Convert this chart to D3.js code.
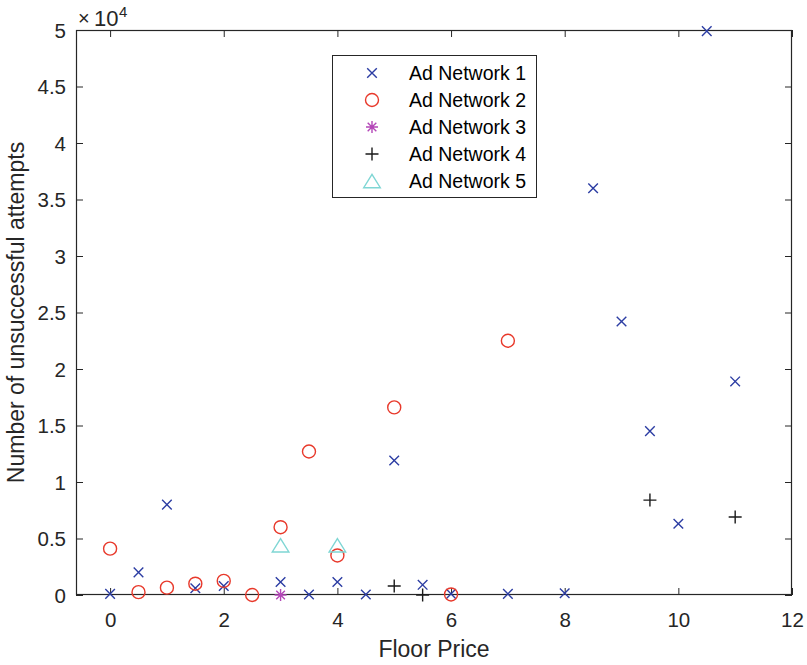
<!DOCTYPE html>
<html>
<head>
<meta charset="utf-8">
<script src="https://cdn.jsdelivr.net/npm/d3@7"></script>
<style>
  body { margin: 0; background: #fff; }
  svg { display: block; font-family: "Liberation Sans", Arial, Helvetica, sans-serif; }
</style>
</head>
<body>
<div id="chart"></div>
<script>
// Floor price (x) for each ad network, and unsuccessful attempts (y)
const net1X = [0, 0.5, 1, 1.5, 2, 3, 3.5, 4, 4.5, 5, 5.5, 6, 7, 8, 8.5, 9, 9.5, 10, 10.5, 11];
const net1Y = [100, 2000, 8000, 600, 800, 1150, 50, 1150, 50, 11900, 900, 100, 100, 150, 36000, 24200, 14500, 6300, 49900, 18900];

const net2X = [0, 0.5, 1, 1.5, 2, 2.5, 3, 3.5, 4, 5, 6, 7];
const net2Y = [4100, 250, 650, 1000, 1250, 0, 6000, 12700, 3500, 16600, 50, 22500];

const net3X = [3];
const net3Y = [0];

const net4X = [5, 5.5, 9.5, 11];
const net4Y = [800, 0, 8400, 6900];

const net5X = [3, 4];
const net5Y = [4400, 4400];

const seriesNames = ["Ad Network 1", "Ad Network 2", "Ad Network 3", "Ad Network 4", "Ad Network 5"];
const seriesColors = ["#2c3da3", "#e8392b", "#b447b8", "#1a1a1a", "#7fd6d4"];
const seriesMarkers = ["x", "o", "*", "+", "^"];

const xTicks = [0, 2, 4, 6, 8, 10, 12];
const yTicks = [0, 0.5, 1, 1.5, 2, 2.5, 3, 3.5, 4, 4.5, 5];   // in units of 10^4

const series = [
  { x: net1X, y: net1Y }, { x: net2X, y: net2Y }, { x: net3X, y: net3Y },
  { x: net4X, y: net4Y }, { x: net5X, y: net5Y }
].map((s, i) => ({
  name: seriesNames[i], color: seriesColors[i], marker: seriesMarkers[i],
  points: s.x.map((v, j) => ({ x: v, y: s.y[j] }))
}));

const W = 807, H = 665;
const plot = { left: 76, right: 792, top: 30, bottom: 595 };
const axisColor = "#262626";

const svg = d3.select("#chart").append("svg").attr("width", W).attr("height", H);

const x = d3.scaleLinear().domain([-0.6, 12]).range([plot.left, plot.right]);
const y = d3.scaleLinear().domain([0, 50000]).range([plot.bottom, plot.top]);

// marker path builders (size in px)
function markerPath(type) {
  const p = d3.path();
  if (type === "x") {
    const r = 4.8;
    p.moveTo(-r, -r); p.lineTo(r, r); p.moveTo(-r, r); p.lineTo(r, -r);
  } else if (type === "o") {
    const r = 6.5;
    p.moveTo(r, 0); p.arc(0, 0, r, 0, Math.PI * 2);
  } else if (type === "+") {
    const r = 6.5;
    p.moveTo(-r, 0); p.lineTo(r, 0); p.moveTo(0, -r); p.lineTo(0, r);
  } else if (type === "*") {
    const r = 6, d = r * 0.72;
    p.moveTo(-r, 0); p.lineTo(r, 0); p.moveTo(0, -r); p.lineTo(0, r);
    p.moveTo(-d, -d); p.lineTo(d, d); p.moveTo(-d, d); p.lineTo(d, -d);
  } else if (type === "^") {
    const w = 8.3, h = 6.7;
    p.moveTo(0, -h); p.lineTo(w, h); p.lineTo(-w, h); p.closePath();
  }
  return p.toString();
}

// plot frame
svg.append("rect")
  .attr("x", plot.left).attr("y", plot.top)
  .attr("width", plot.right - plot.left).attr("height", plot.bottom - plot.top)
  .attr("fill", "#fff");

// axes with inward ticks on all four sides
const tickLen = 7;
const xAxisB = d3.axisBottom(x).tickValues(xTicks).tickSizeInner(-tickLen).tickSizeOuter(0).tickPadding(17).tickFormat(d3.format("d"));
const xAxisT = d3.axisTop(x).tickValues(xTicks).tickSizeInner(-tickLen).tickSizeOuter(0).tickFormat("");
const yAxisL = d3.axisLeft(y).tickValues(yTicks.map(v => v * 1e4)).tickSizeInner(-tickLen).tickSizeOuter(0).tickPadding(10)
  .tickFormat(v => d3.format("~g")(v / 1e4));
const yAxisR = d3.axisRight(y).tickValues(yTicks.map(v => v * 1e4)).tickSizeInner(-tickLen).tickSizeOuter(0).tickFormat("");

function styleAxis(g) {
  g.select(".domain").remove();
  g.selectAll(".tick line").attr("stroke", axisColor).attr("stroke-width", 1);
  g.selectAll(".tick text").attr("fill", axisColor).attr("font-size", 20.5)
    .attr("font-family", "'Liberation Sans', Arial, sans-serif");
}

svg.append("g").attr("transform", `translate(0,${plot.bottom})`).call(xAxisB).call(styleAxis);
svg.append("g").attr("transform", `translate(0,${plot.top})`).call(xAxisT).call(styleAxis);
svg.append("g").attr("transform", `translate(${plot.left},0)`).call(yAxisL).call(styleAxis)
  .selectAll(".tick text").attr("dy", "0.36em");
svg.append("g").attr("transform", `translate(${plot.right},0)`).call(yAxisR).call(styleAxis);

// box outline
svg.append("rect")
  .attr("x", plot.left + 0.5).attr("y", plot.top + 0.5)
  .attr("width", plot.right - plot.left - 1).attr("height", plot.bottom - plot.top - 1)
  .attr("fill", "none").attr("stroke", axisColor).attr("stroke-width", 1.2);

// data markers
const clipId = "plot-clip";
svg.append("clipPath").attr("id", clipId).append("rect")
  .attr("x", plot.left - 10).attr("y", plot.top - 10)
  .attr("width", plot.right - plot.left + 20).attr("height", plot.bottom - plot.top + 20);

const marks = svg.append("g").attr("clip-path", `url(#${clipId})`);
series.forEach(s => {
  marks.append("g").selectAll("path").data(s.points).join("path")
    .attr("transform", d => `translate(${x(d.x)},${y(d.y)})`)
    .attr("d", markerPath(s.marker))
    .attr("fill", "none")
    .attr("stroke", s.color)
    .attr("stroke-width", 1.4);
});

// exponent label: ×10^4 above the y axis
const expo = svg.append("g").attr("fill", axisColor);
expo.append("text").attr("x", 78).attr("y", 25).attr("font-size", 20).text("\u00d7");
expo.append("text").attr("x", 94).attr("y", 26).attr("font-size", 22).text("10");
expo.append("text").attr("x", 119).attr("y", 17).attr("font-size", 15).text("4");

// axis titles
svg.append("text")
  .attr("x", (plot.left + plot.right) / 2).attr("y", 657)
  .attr("text-anchor", "middle").attr("fill", axisColor).attr("font-size", 23)
  .text("Floor Price");

svg.append("text")
  .attr("transform", `translate(24,${(plot.top + plot.bottom) / 2}) rotate(-90)`)
  .attr("text-anchor", "middle").attr("fill", axisColor).attr("font-size", 23)
  .text("Number of unsuccessful attempts");

// legend
const legend = { x: 332, y: 55, w: 204, h: 142, rowH: 27, firstRow: 73 };
const lg = svg.append("g");
lg.append("rect")
  .attr("x", legend.x + 0.5).attr("y", legend.y + 0.5)
  .attr("width", legend.w).attr("height", legend.h)
  .attr("fill", "#fff").attr("stroke", axisColor).attr("stroke-width", 1);

const rows = lg.selectAll("g.row").data(series).join("g").attr("class", "row")
  .attr("transform", (d, i) => `translate(0,${legend.firstRow + i * legend.rowH})`);
rows.append("path")
  .attr("transform", "translate(372,0)")
  .attr("d", d => markerPath(d.marker))
  .attr("fill", "none").attr("stroke", d => d.color).attr("stroke-width", 1.4);
rows.append("text")
  .attr("x", 409).attr("y", 7).attr("fill", "#000").attr("font-size", 19.5)
  .text(d => d.name);
</script>
</body>
</html>
